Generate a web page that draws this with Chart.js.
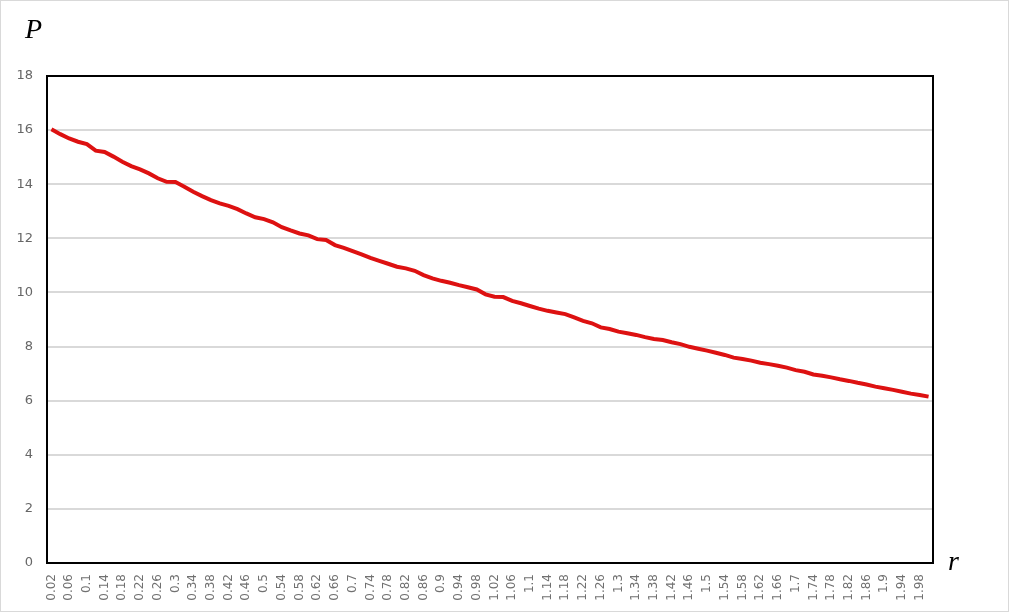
<!DOCTYPE html>
<html lang="en">
<head>
  <meta charset="UTF-8" />
  <title>P - r</title>
  <script src="https://cdn.jsdelivr.net/npm/chart.js"></script>
  <style>
    body { margin: 0; background: #fff; }
    canvas { display: block; }
  </style>
</head>
<body>
  <canvas id="chart" width="1009" height="612"></canvas>

  <script>
    // r = 0.02 ... 2.00
    const rLabels = [
      '0.02','0.04','0.06','0.08','0.1','0.12','0.14','0.16','0.18','0.2',
      '0.22','0.24','0.26','0.28','0.3','0.32','0.34','0.36','0.38','0.4',
      '0.42','0.44','0.46','0.48','0.5','0.52','0.54','0.56','0.58','0.6',
      '0.62','0.64','0.66','0.68','0.7','0.72','0.74','0.76','0.78','0.8',
      '0.82','0.84','0.86','0.88','0.9','0.92','0.94','0.96','0.98','1',
      '1.02','1.04','1.06','1.08','1.1','1.12','1.14','1.16','1.18','1.2',
      '1.22','1.24','1.26','1.28','1.3','1.32','1.34','1.36','1.38','1.4',
      '1.42','1.44','1.46','1.48','1.5','1.52','1.54','1.56','1.58','1.6',
      '1.62','1.64','1.66','1.68','1.7','1.72','1.74','1.76','1.78','1.8',
      '1.82','1.84','1.86','1.88','1.9','1.92','1.94','1.96','1.98','2'
    ];

    const pValues = [
      16.03, 15.85, 15.69, 15.57, 15.48, 15.24, 15.19, 15.02, 14.83, 14.67,
      14.55, 14.40, 14.22, 14.09, 14.08, 13.91, 13.72, 13.56, 13.41, 13.29,
      13.20, 13.08, 12.92, 12.78, 12.71, 12.59, 12.41, 12.29, 12.18, 12.11,
      11.97, 11.94, 11.75, 11.65, 11.53, 11.41, 11.28, 11.17, 11.06, 10.95,
      10.89, 10.80, 10.64, 10.52, 10.43, 10.36, 10.27, 10.19, 10.11, 9.93,
      9.84, 9.83, 9.69, 9.60, 9.50, 9.40, 9.32, 9.26, 9.20, 9.08,
      8.95, 8.86, 8.71, 8.65, 8.55, 8.49, 8.43, 8.35, 8.28, 8.24,
      8.16, 8.09, 7.99, 7.92, 7.85, 7.77, 7.69, 7.59, 7.54, 7.48,
      7.40, 7.35, 7.29, 7.22, 7.13, 7.07, 6.97, 6.92, 6.86, 6.79,
      6.73, 6.66, 6.60, 6.52, 6.46, 6.40, 6.33, 6.26, 6.21, 6.15
    ];

    const yMin = 0, yMax = 18, yStep = 2;

    const frame = {
      id: 'frame',
      afterDraw(chart) {
        const c = chart.ctx, a = chart.chartArea;
        c.save();
        // plot box
        c.strokeStyle = '#000';
        c.lineWidth = 2;
        c.strokeRect(a.left, a.top, a.right - a.left, a.bottom - a.top);
        // outer border
        c.strokeStyle = '#d9d9d9';
        c.lineWidth = 1;
        c.strokeRect(0.5, 0.5, chart.width - 1, chart.height - 1);
        // axis titles
        c.fillStyle = '#000';
        c.font = 'italic 28px "Liberation Serif"';
        c.textBaseline = 'alphabetic';
        c.fillText('P', 25, 38);
        c.fillText('r', 948, 570);
        c.restore();
      }
    };

    const ctx = document.getElementById('chart').getContext('2d');
    const chart = new Chart(ctx, {
      type: 'line',
      data: {
        labels: rLabels,
        datasets: [{
          data: pValues,
          borderColor: '#dd1111',
          borderWidth: 4,
          pointRadius: 0,
          tension: 0,
          fill: false
        }]
      },
      options: {
        responsive: false,
        animation: false,
        layout: { padding: { top: 76, right: 76, left: 0, bottom: 0 } },
        plugins: {
          legend: { display: false },
          tooltip: { enabled: false }
        },
        scales: {
          x: {
            offset: true,
            grid: { display: false, drawTicks: false },
            border: { display: false },
            afterFit: s => { s.height = 49; },
            ticks: {
              autoSkip: false,
              minRotation: 90,
              maxRotation: 90,
              padding: 11,
              color: '#707070',
              font: { family: 'DejaVu Sans', size: 12 },
              callback: (v, i) => (i % 2 === 0 ? rLabels[i] : '')
            }
          },
          y: {
            min: yMin,
            max: yMax,
            afterFit: s => { s.width = 47; },
            grid: { color: '#d9d9d9', lineWidth: 2, drawTicks: false },
            border: { display: false },
            ticks: {
              stepSize: yStep,
              padding: 14,
              color: '#666666',
              font: { family: 'DejaVu Sans', size: 13 }
            }
          }
        }
      },
      plugins: [frame]
    });
  </script>
</body>
</html>
